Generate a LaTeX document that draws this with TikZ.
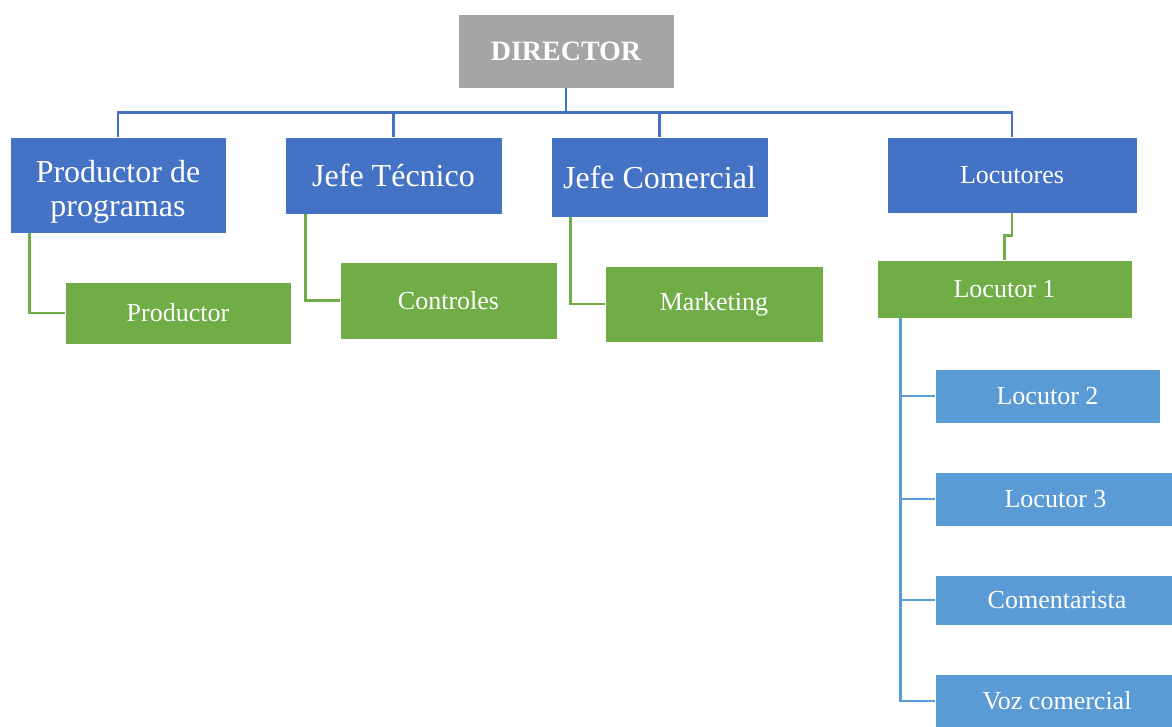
\documentclass[tikz,border=0pt]{standalone}
\usepackage{fontspec}
\setmainfont{Liberation Serif}
\usetikzlibrary{calc}
\definecolor{orgblue}{HTML}{4472C4}
\definecolor{orggreen}{HTML}{70AD47}
\definecolor{orglight}{HTML}{5B9BD5}
\definecolor{orggray}{HTML}{A5A5A5}
\tikzset{
    box/.style = {draw = white, line width = 0.6pt, text = white, inner sep = 0pt, align = center},
    boxgray/.style = {box, fill = orggray, font = \fontsize{21}{23}\selectfont\bfseries},
    boxblue/.style = {box, fill = orgblue, font = \fontsize{24}{25.7}\selectfont},
    boxsmall/.style = {box, fill = orgblue, font = \fontsize{19.5}{21}\selectfont},
    boxgreen/.style = {box, fill = orggreen, font = \fontsize{19.5}{21}\selectfont},
    boxlight/.style = {box, fill = orglight, font = \fontsize{19.5}{21}\selectfont},
    linkblue/.style = {orgblue, line width = 2.2pt},
    linkgreen/.style = {orggreen, line width = 2.2pt},
    linklight/.style = {orglight, line width = 2.2pt}
}
\begin{document}
\begin{tikzpicture}[x = 0.75pt, y = -0.75pt]
                \clip (0, 0) rectangle (1172, 727);
                \fill [white] (0, 0) rectangle (1172, 727);

                \node [boxgray, minimum width = 216*0.75pt, minimum height = 74*0.75pt] (dir) at (566, 51) {DIRECTOR};

                \node [boxblue, minimum width = 216*0.75pt, minimum height = 96*0.75pt] (pdp) at (118, 185)
                    {\raisebox{-24pt}[0pt][0pt]{\begin{tabular}[b]{@{}c@{}}Productor de\\programas\end{tabular}}};
                \node [boxblue, minimum width = 217*0.75pt, minimum height = 77*0.75pt] (jt) at (393.5, 175.5) {Jefe Técnico};
                \node [boxblue, minimum width = 217*0.75pt, minimum height = 80*0.75pt] (jc) at (659.5, 177) {Jefe Comercial};
                \node [boxsmall, minimum width = 250*0.75pt, minimum height = 76*0.75pt] (loc) at (1012, 175) {Locutores};

                \node [boxgreen, minimum width = 226*0.75pt, minimum height = 62*0.75pt] (prod) at (178, 313) {Productor};
                \node [boxgreen, minimum width = 217*0.75pt, minimum height = 77*0.75pt] (ctrl) at (448.5, 300.5) {Controles};
                \node [boxgreen, minimum width = 218*0.75pt, minimum height = 76*0.75pt] (mkt) at (714, 304) {Marketing};
                \node [boxgreen, minimum width = 255*0.75pt, minimum height = 58*0.75pt] (loc1) at (1004.5, 289) {Locutor 1};

                \node [boxlight, minimum width = 225*0.75pt, minimum height = 54*0.75pt] (loc2) at (1047.5, 396) {Locutor 2};
                \node [boxlight, minimum width = 241*0.75pt, minimum height = 54*0.75pt] (loc3) at (1055.5, 499) {Locutor 3};
                \node [boxlight, minimum width = 244*0.75pt, minimum height = 50*0.75pt] (com) at (1057, 600) {Comentarista};
                \node [boxlight, minimum width = 244*0.75pt, minimum height = 54*0.75pt] (voz) at (1057, 701) {Voz comercial};

                \foreach \n in {pdp, jt, jc, loc}
                    \draw [linkblue] (dir.south) -- ++(0, 24) -| (\n.north);

                \draw [linkgreen]
                    ($(pdp.south west) + (20, 0)$) |- (prod.west)
                    ($(jt.south west) + (21, 0)$) |- (ctrl.west)
                    ($(jc.south west) + (20, 0)$) |- (mkt.west)
                    (loc.south) -- ++(0, 22) -| (loc1.north)
                ;

                \foreach \n in {loc2, loc3, com, voz}
                    \draw [linklight] ($(loc1.south west) + (24, 0)$) |- (\n.west);
            \end{tikzpicture}
\end{document}
